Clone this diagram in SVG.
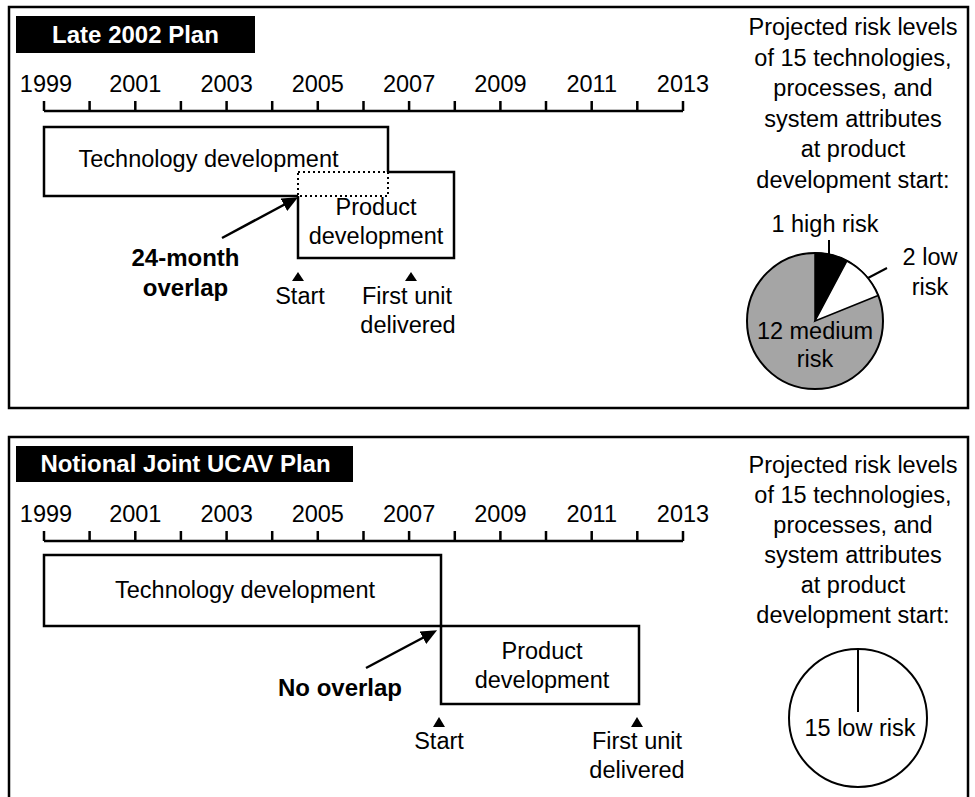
<svg xmlns="http://www.w3.org/2000/svg" xmlns:xlink="http://www.w3.org/1999/xlink" width="975" height="797" viewBox="0 0 975 797">
  <style>
    text { font-family: "Liberation Sans", Arial, Helvetica, sans-serif; font-size: 23.5px; fill: #000; }
    .c { text-anchor: middle; }
    .b { font-weight: bold; font-size: 24px; }
    .w { fill: #fff; }
    .frame { fill: #fff; stroke: #000; stroke-width: 2.5; }
    .box { fill: none; stroke: #000; stroke-width: 2.5; }
    .dot { fill: none; stroke: #000; stroke-width: 2; stroke-dasharray: 2 3; }
    .ln { fill: none; stroke: #000; stroke-width: 2.5; }
    .thin { fill: none; stroke: #000; stroke-width: 2; }
    .tri { fill: #000; }
  </style>
  <defs>
    <marker id="ah" viewBox="0 0 16 14" refX="8" refY="7" markerWidth="16" markerHeight="14" markerUnits="userSpaceOnUse" orient="auto">
      <path d="M0,0 L16,7 L0,14 z" fill="#000"/>
    </marker>
    <g id="timeline">
      <path class="ln" d="M44 111 H683 M44 101 V111 M89.6 101 V111 M135.3 101 V111 M180.9 101 V111 M226.6 101 V111 M272.2 101 V111 M317.8 101 V111 M363.5 101 V111 M409.1 101 V111 M454.8 101 V111 M500.4 101 V111 M546 101 V111 M591.7 101 V111 M637.3 101 V111 M683 101 V111"/>
      <text class="c" x="46" y="92">1999</text>
      <text class="c" x="135.3" y="92">2001</text>
      <text class="c" x="226.6" y="92">2003</text>
      <text class="c" x="317.8" y="92">2005</text>
      <text class="c" x="409.1" y="92">2007</text>
      <text class="c" x="500.4" y="92">2009</text>
      <text class="c" x="591.7" y="92">2011</text>
      <text class="c" x="683" y="92">2013</text>
    </g>
  </defs>

  <!-- Top panel -->
  <g id="panel-top">
    <rect class="frame" x="9" y="7" width="959" height="401"/>
    <g id="title-top">
      <rect x="16" y="16" width="239" height="37" fill="#000"/>
      <text class="c b w" x="135.5" y="43">Late 2002 Plan</text>
    </g>
    <g id="timeline-top">
      <use xlink:href="#timeline"/>
    </g>
    <g id="tech-dev-top">
      <path class="box" d="M298 196 H44 V127 H388 V172"/>
      <text class="c" x="208.5" y="167">Technology development</text>
    </g>
    <g id="overlap-zone">
      <rect class="dot" x="298" y="172" width="90" height="24"/>
    </g>
    <g id="prod-dev-top">
      <path class="box" d="M388 172 H454 V258 H298 V196"/>
      <text class="c" x="376" y="215">Product</text>
      <text class="c" x="376" y="244">development</text>
    </g>
    <g id="overlap-label">
      <text class="c b" x="185.5" y="266">24-month</text>
      <text class="c b" x="185.5" y="296">overlap</text>
    </g>
    <g id="start-top">
      <path class="tri" d="M298 272 L304 281 L292 281 z"/>
      <text class="c" x="300" y="304">Start</text>
    </g>
    <g id="first-unit-top">
      <path class="tri" d="M411 272 L417 281 L405 281 z"/>
      <text class="c" x="407" y="304">First unit</text>
      <text class="c" x="408" y="333">delivered</text>
    </g>
    <g id="risk-text-top">
      <text class="c" x="853" y="35">Projected risk levels</text>
      <text class="c" x="853" y="65.5">of 15 technologies,</text>
      <text class="c" x="853" y="96">processes, and</text>
      <text class="c" x="853" y="126.5">system attributes</text>
      <text class="c" x="853" y="157">at product</text>
      <text class="c" x="853" y="187.5">development start:</text>
    </g>
    <g id="pie-top">
      <circle cx="815" cy="321" r="68" fill="#a5a5a5" stroke="#000" stroke-width="2"/>
      <path d="M815 321 L815 253 A68 68 0 0 1 846.9 261 z" fill="#000" stroke="#000" stroke-width="1.5"/>
      <path d="M815 321 L846.9 261 A68 68 0 0 1 878 295.5 z" fill="#fff" stroke="#000" stroke-width="1.5"/>
      <path class="thin" d="M829 240 V255"/>
      <path class="thin" d="M868 278 L887 268"/>
      <text class="c" x="825" y="232">1 high risk</text>
      <text class="c" x="930" y="265">2 low</text>
      <text class="c" x="930" y="295">risk</text>
      <text class="c" x="815" y="339">12 medium</text>
      <text class="c" x="815" y="367">risk</text>
    </g>
  </g>

  <!-- Bottom panel -->
  <g id="panel-bottom">
    <rect class="frame" x="9" y="437" width="959" height="400"/>
    <g id="title-bottom">
      <rect x="16" y="446" width="337" height="36" fill="#000"/>
      <text class="c b w" x="185.5" y="472">Notional Joint UCAV Plan</text>
    </g>
    <g id="timeline-bottom">
      <use xlink:href="#timeline" transform="translate(0,430)"/>
    </g>
    <g id="tech-dev-bottom">
      <rect class="box" x="44" y="555" width="397" height="71"/>
      <text class="c" x="245" y="598">Technology development</text>
    </g>
    <g id="prod-dev-bottom">
      <rect class="box" x="441" y="626" width="198" height="78"/>
      <text class="c" x="542" y="659">Product</text>
      <text class="c" x="542" y="688">development</text>
    </g>
    <g id="no-overlap-label">
      <text class="c b" x="340" y="696">No overlap</text>
    </g>
    <g id="start-bottom">
      <path class="tri" d="M439 717 L445 727 L433 727 z"/>
      <text class="c" x="439" y="749">Start</text>
    </g>
    <g id="first-unit-bottom">
      <path class="tri" d="M637 717 L643 727 L631 727 z"/>
      <text class="c" x="637" y="749">First unit</text>
      <text class="c" x="637" y="778">delivered</text>
    </g>
    <g id="risk-text-bottom">
      <text class="c" x="853" y="473">Projected risk levels</text>
      <text class="c" x="853" y="503">of 15 technologies,</text>
      <text class="c" x="853" y="533">processes, and</text>
      <text class="c" x="853" y="563">system attributes</text>
      <text class="c" x="853" y="593">at product</text>
      <text class="c" x="853" y="623">development start:</text>
    </g>
    <g id="pie-bottom">
      <circle cx="858" cy="718" r="69" fill="#fff" stroke="#000" stroke-width="2"/>
      <path class="thin" d="M858 649 V712"/>
      <text class="c" x="860" y="736">15 low risk</text>
    </g>
  </g>

  <!-- Connectors -->
  <g id="connectors">
    <path class="ln" d="M222 238 L291 201" marker-end="url(#ah)"/>
    <path class="ln" d="M366 668 L430 634" marker-end="url(#ah)"/>
  </g>
</svg>
